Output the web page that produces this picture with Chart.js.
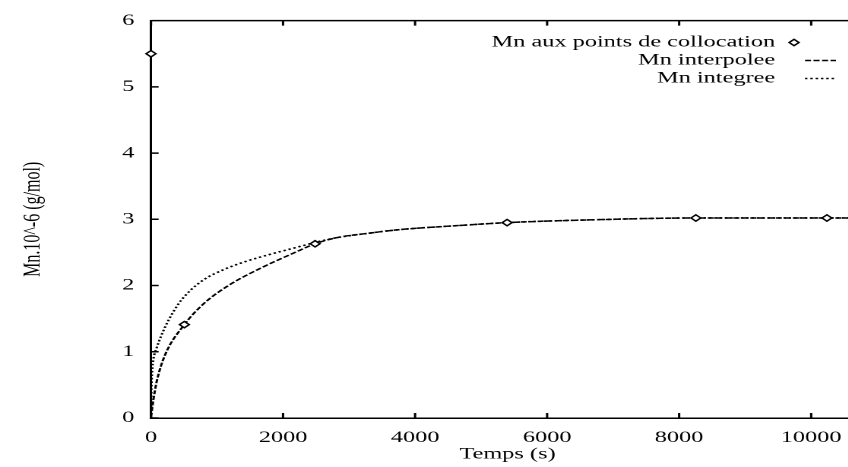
<!DOCTYPE html>
<html><head><meta charset="utf-8">
<script src="https://cdn.jsdelivr.net/npm/chart.js@4/dist/chart.umd.min.js"></script>
<style>
html,body{margin:0;padding:0;background:#fff;overflow:hidden;width:848px;height:467px;}
#wrap{position:absolute;left:0;top:0;transform-origin:0 0;}
</style></head><body>
<div id="wrap"><canvas id="c" width="580" height="467"></canvas></div>
<script>
// ---- data ----
const collocTimes = [0, 505, 2485, 5394, 8253, 10238];
const collocMn    = [5.50, 1.41, 2.63, 2.95, 3.02, 3.02];

const interpTimes = [0, 35, 86, 212, 505, 792, 1172, 1677, 2182, 2485, 2800, 3300, 3722, 4727, 5394, 6601, 8253, 10238, 10800];
const interpMn    = [0.02, 0.27, 0.55, 0.95, 1.41, 1.72, 2.00, 2.27, 2.50, 2.63, 2.72, 2.79, 2.84, 2.91, 2.95, 2.99, 3.02, 3.02, 3.02];

const integTimes  = [0, 5, 15, 35, 86, 217, 414, 600, 818, 1100, 1424, 1800, 2182, 2485, 2800, 3300, 3722, 4727, 5394, 6601, 8253, 10238, 10800];
const integMn     = [0, 0.40, 0.68, 0.88, 1.06, 1.38, 1.72, 1.93, 2.10, 2.24, 2.36, 2.47, 2.57, 2.65, 2.72, 2.79, 2.84, 2.91, 2.95, 2.99, 3.02, 3.02, 3.02];

const xTickValues = [0, 2000, 4000, 6000, 8000, 10000];
const yTickValues = [0, 1, 2, 3, 4, 5, 6];
const seriesLabels = ['Mn aux points de collocation', 'Mn interpolee', 'Mn integree'];
const xTitle = 'Temps (s)';
const yTitle = 'Mn.10^-6 (g/mol)';
const xMin = 0, xMax = 10800, yMin = 0, yMax = 6;

// ---- layout (reference is a horizontally stretched image) ----
const SX = 1.52;
document.getElementById('wrap').style.transform = 'scaleX(' + SX + ')';
const CW = 580;
const L = 151 / SX, R = 864 / SX;
const FONT = '"Liberation Serif", "Times New Roman", serif';

const pts = (xs, ys) => xs.map((x, i) => ({x: x, y: ys[i]}));

const frame = {
  id: 'frame',
  afterDraw(chart) {
    const {ctx, chartArea: a} = chart;
    const xs = chart.scales.x, ys = chart.scales.y;
    ctx.save();
    ctx.strokeStyle = '#000';
    ctx.lineWidth = 1.5;
    ctx.beginPath();
    ctx.moveTo(a.left, a.top); ctx.lineTo(a.right, a.top);
    ctx.moveTo(a.right, a.top); ctx.lineTo(a.right, a.bottom);
    const tl = 5;
    xs.ticks.forEach(t => {
      const p = xs.getPixelForValue(t.value);
      ctx.moveTo(p, a.bottom); ctx.lineTo(p, a.bottom - tl);
      ctx.moveTo(p, a.top); ctx.lineTo(p, a.top + tl);
    });
    ys.ticks.forEach(t => {
      const p = ys.getPixelForValue(t.value);
      ctx.moveTo(a.left, p); ctx.lineTo(a.left + tl, p);
      ctx.moveTo(a.right, p); ctx.lineTo(a.right - tl, p);
    });
    ctx.stroke();

    // legend (gnuplot style: right-aligned text, sample on the right)
    ctx.font = '16px ' + FONT;
    ctx.textAlign = 'right';
    ctx.textBaseline = 'middle';
    const textRight = 510, rows = [42.5, 60.5, 78.5];
    chart.data.datasets.forEach((d, i) => {
      const y = rows[i];
      ctx.fillStyle = '#000';
      ctx.fillText(d.label, textRight, y);
      if (d.showLine) {
        ctx.save();
        ctx.strokeStyle = '#000';
        ctx.lineWidth = d.borderWidth;
        ctx.setLineDash(d.borderDash);
        ctx.beginPath();
        ctx.moveTo(529.6, y); ctx.lineTo(550, y);
        ctx.stroke();
        ctx.restore();
      } else {
        ctx.save();
        ctx.fillStyle = '#fff'; ctx.strokeStyle = '#000'; ctx.lineWidth = d.pointBorderWidth;
        Chart.helpers.drawPoint(ctx, {
          pointStyle: d.pointStyle, radius: d.pointRadius, borderWidth: d.pointBorderWidth, rotation: 0
        }, 522.4, y);
        ctx.restore();
      }
    });
    ctx.restore();
  }
};

new Chart(document.getElementById('c'), {
  type: 'scatter',
  data: {
    datasets: [
      {
        label: seriesLabels[0],
        data: pts(collocTimes, collocMn),
        showLine: false,
        pointStyle: 'rectRot',
        pointRadius: 3.2,
        pointBorderWidth: 1.3,
        pointBackgroundColor: '#fff',
        pointBorderColor: '#000',
        clip: false,
        order: 0
      },
      {
        label: seriesLabels[1],
        data: pts(interpTimes, interpMn),
        showLine: true,
        borderColor: '#000',
        borderWidth: 1.5,
        borderDash: [4, 1.6],
        pointRadius: 0,
        cubicInterpolationMode: 'monotone',
        order: 1
      },
      {
        label: seriesLabels[2],
        data: pts(integTimes, integMn),
        showLine: true,
        borderColor: '#000',
        borderWidth: 1.6,
        borderDash: [1.6, 1.9],
        pointRadius: 0,
        cubicInterpolationMode: 'monotone',
        order: 2
      }
    ]
  },
  options: {
    responsive: false,
    animation: false,
    devicePixelRatio: 2,
    layout: {padding: {top: 17, right: CW - R, left: 0, bottom: 0}},
    plugins: {legend: {display: false}, tooltip: {enabled: false}},
    scales: {
      x: {
        type: 'linear', min: xMin, max: xMax,
        afterBuildTicks: s => { s.ticks = xTickValues.map(v => ({value: v})); },
        afterFit: s => { s.height = 49; },
        grid: {display: false, drawTicks: false},
        border: {display: true, color: '#000', width: 1.5},
        ticks: {autoSkip: false, maxRotation: 0, padding: 10, color: '#000',
                font: {family: FONT, size: 16}, callback: v => String(v)},
        title: {display: true, text: xTitle, color: '#000', font: {family: FONT, size: 16},
                padding: {top: 0, bottom: 3}}
      },
      y: {
        type: 'linear', min: yMin, max: yMax,
        afterBuildTicks: s => { s.ticks = yTickValues.map(v => ({value: v})); },
        afterFit: s => { s.width = L; },
        grid: {display: false, drawTicks: false},
        border: {display: true, color: '#000', width: 1.5},
        ticks: {padding: 11, color: '#000', font: {family: FONT, size: 16}, callback: v => String(v)},
        title: {display: true, text: yTitle, color: '#000', font: {family: FONT, size: 16},
                padding: {top: 12, bottom: 0}}
      }
    }
  },
  plugins: [frame]
});
</script>
</body></html>
